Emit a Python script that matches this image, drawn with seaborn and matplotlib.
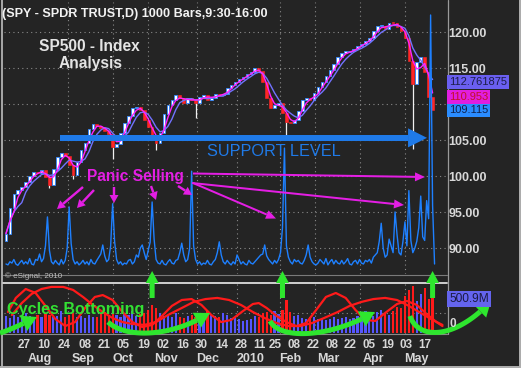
import numpy as np
import pandas as pd
import matplotlib
matplotlib.use("Agg")
import matplotlib.pyplot as plt
from matplotlib import font_manager
from matplotlib.patches import Polygon
import matplotlib.transforms as mtransforms
import seaborn as sns

# ---------------- data ----------------
# one candle every 2nd trading session, day index from mid-July 2009
bar_day = list(range(0, 217, 2))
closes = [92.0, 95.5, 97.5, 98.0, 98.5, 99.2, 100.0, 100.6, 100.4, 100.8,
          99.8, 98.8, 101.0, 102.6, 103.2, 102.8, 101.5, 100.2, 102.0, 103.6,
          104.6, 106.5, 107.2, 107.0, 106.6, 106.3, 105.8, 104.0, 104.5, 106.0,
          107.4, 108.4, 109.4, 109.6, 109.2, 107.8, 106.8, 105.5, 104.6, 106.0,
          108.6, 109.8, 110.5, 111.2, 110.8, 110.2, 110.9, 110.6, 110.2, 111.0,
          111.3, 110.6, 110.9, 111.4, 111.2, 111.4, 112.2, 112.7, 113.1, 113.5,
          113.8, 114.2, 114.5, 115.0, 114.6, 113.0, 110.8, 109.5, 109.8, 110.2,
          108.8, 107.5, 107.3, 107.8, 109.0, 110.5, 110.9, 110.5, 111.5, 112.3,
          113.0, 113.9, 114.7, 115.5, 116.6, 117.1, 117.2, 117.3, 117.7, 118.1,
          118.4, 118.7, 119.2, 120.1, 120.8, 120.9, 120.4, 121.3, 121.2, 120.7,
          120.2, 119.2, 116.0, 112.8, 115.8, 116.6, 114.5, 111.0, 109.1]
first_open = 91.0
wick_lows = {11: 98.3, 17: 99.6, 27: 102.3, 38: 103.6, 48: 108.0, 71: 105.5, 103: 103.8}

# daily volume line drawn in the price panel (millions of shares)
volume_day = [150, 148, 155, 152, 160, 150, 147, 153, 158, 150,
              155, 150, 162, 150, 148, 160, 158, 172, 155, 162,
              190, 254, 180, 155, 150, 158, 152, 148, 160, 150,
              158, 185, 276, 195, 160, 150, 155, 148, 152, 158,
              150, 155, 148, 160, 152, 150, 158, 165, 172, 192,
              168, 155, 160, 190, 283, 200, 160, 150, 155, 148,
              152, 150, 158, 160, 150, 155, 170, 165, 185, 192,
              175, 160, 180, 198, 287, 205, 160, 152, 150, 158,
              150, 148, 155, 160, 152, 150, 158, 160, 175, 196,
              170, 155, 160, 185, 355, 190, 160, 150, 155, 148,
              152, 150, 158, 150, 148, 155, 160, 175, 199, 170,
              155, 150, 158, 152, 148, 155, 150, 170, 160, 150,
              155, 150, 148, 158, 152, 150, 155, 160, 165, 170,
              172, 192, 168, 160, 155, 150, 158, 152, 160, 175,
              230, 406, 190, 165, 155, 150, 160, 155, 158, 152,
              150, 158, 170, 192, 165, 155, 150, 148, 152, 160,
              155, 150, 162, 148, 155, 160, 150, 158, 152, 150,
              158, 150, 155, 162, 150, 148, 155, 158, 150, 160,
              152, 150, 158, 155, 160, 152, 165, 170, 175, 200,
              240, 185, 165, 170, 205, 190, 175, 265, 215, 175,
              170, 200, 243, 190, 312, 202, 175, 185, 200, 230,
              300, 210, 202, 290, 250, 700, 280, 150]

# lower panel volume histogram (millions), one bar per candle
bar_volume = [260, 230, 270, 250, 240, 300, 260, 230, 280, 250,
              300, 270, 240, 260, 330, 250, 270, 300, 240, 260, 230, 280, 250, 240,
              300, 320, 260, 340, 280, 250, 300, 270, 330, 260, 290, 310, 350,
              420, 380, 300, 260, 280, 240, 300, 250, 230, 260, 280, 240, 250,
              300, 330, 290, 260, 250, 300, 270, 230, 240, 210,
              180, 200, 220, 260, 240, 300, 320, 280, 330, 290, 350,
              500, 320, 260, 280, 230, 220, 250, 240, 210, 230, 200, 220, 240, 210, 230, 250, 220,
              230, 260, 300, 340, 280, 260, 320, 350, 300, 280, 330, 400, 380,
              560, 650, 720, 480, 600, 680, 520, 600]

# two cycle oscillators in the lower panel
cycle_fast_day = [1, 5, 10, 15, 20, 25, 30, 35, 40, 45, 49, 54, 59, 64, 69, 74, 79, 84, 89, 94,
                  99, 104, 109, 114, 120, 125, 128, 132, 137, 142, 147, 152, 157, 162, 167, 172,
                  177, 182, 187, 192, 198, 203, 208, 213, 218, 221]
cycle_fast = [-0.21, 0.53, 1.0, 0.79, 0.11, -0.58, -0.95, -0.74, 0.0, 0.58, 0.68, 0.42, -0.21,
              -0.74, -1.0, -0.89, -0.42, 0.11, 0.42, 0.47, 0.16, -0.37, -0.74, -0.63, -0.16,
              0.21, 0.26, 0.0, -0.42, -0.74, -0.95, -0.79, -0.11, 0.58, 0.79, 0.53, -0.11,
              -0.63, -0.68, -0.26, 0.21, 0.37, 0.16, -0.32, -0.74, -0.95]
cycle_slow_day = [3, 8, 13, 18, 23, 29, 34, 39, 44, 49, 54, 59, 64, 70, 76, 82, 89, 95, 101,
                  107, 113, 119, 125, 131, 137, 143, 149, 155, 161, 168, 174, 180, 186, 192,
                  198, 204, 210, 216, 221]
cycle_slow = [-0.37, 0.26, 0.74, 1.0, 1.11, 1.11, 0.95, 0.58, 0.16, -0.21, -0.53, -0.74, -0.84,
              -0.89, -0.74, -0.37, 0.0, 0.32, 0.47, 0.53, 0.42, 0.16, -0.21, -0.53, -0.79,
              -0.95, -0.95, -0.79, -0.53, -0.21, 0.11, 0.32, 0.47, 0.53, 0.42, 0.11, -0.26,
              -0.63, -0.89]

price_ticks = [90, 95, 100, 105, 115, 120]
day_tick_pos = [9, 19, 29.5, 40, 49.5, 59, 69.5, 79.5, 89.5, 99, 109.5, 119, 128.5, 136.5,
                146, 155.5, 165, 174.5, 184, 193.5, 202.5, 212]
day_tick_labels = ['27', '10', '24', '08', '21', '05', '19', '02', '16', '30', '14', '28',
                   '11', '25', '08', '22', '08', '22', '05', '19', '03', '17']
month_pos = [17.3, 39, 59, 81, 102.3, 124, 144, 163, 186, 208]
month_labels = ['Aug', 'Sep', 'Oct', 'Nov', 'Dec', '2010', 'Feb', 'Mar', 'Apr', 'May']
grid_days = [31.4, 54.2, 72, 96.7, 117, 138.7, 156.5, 179.2, 202]

ma_fast_last = 110.953
ma_slow_last = 112.761875
last_price = 109.115
support_level = 105.3
support_days = [27.5, 213.2]
cycle_bottom_days = [74, 140, 216]

# ---------------- style ----------------
W, H = 521, 368
BG = '#242424'
sns.set_theme(style='dark', rc={'axes.facecolor': BG, 'figure.facecolor': BG,
                                'axes.grid': False, 'axes.edgecolor': BG})
plt.rcParams['font.family'] = ['Liberation Sans', 'DejaVu Sans']
names = {f.name for f in font_manager.fontManager.ttflist}
NARROW = 'Liberation Sans Narrow' if 'Liberation Sans Narrow' in names else 'Liberation Sans'

fig = plt.figure(figsize=(W / 100, H / 100), dpi=100, facecolor=BG)


def fig_rect(x0, y0, x1, y1):
    return [x0 / W, 1 - y1 / H, (x1 - x0) / W, (y1 - y0) / H]


XLIM = (-1.0, 223.3)
axp = fig.add_axes(fig_rect(4, 2, 447, 274))
axv = axp.twinx()
axb = fig.add_axes(fig_rect(4, 282, 447, 334))
axc = axb.twinx()
ov = fig.add_axes([0, 0, 1, 1])
ov.set_xlim(0, W)
ov.set_ylim(H, 0)
ov.axis('off')
ov.patch.set_visible(False)

for a in (axp, axv, axb, axc):
    a.set_xlim(*XLIM)
    for s in a.spines.values():
        s.set_visible(False)
axv.patch.set_visible(False)
axc.patch.set_visible(False)
axp.set_ylim(86.39, 124.17)
axv.set_ylim(127.9, 728.7)
axb.set_ylim(-15.2, 775)
axc.set_ylim(-1.368, 1.368)

GRID = dict(color='#8a8a8a', lw=0.8, ls=(0, (1, 3)), zorder=0)
for p in [90, 95, 100, 105, 110, 115, 120]:
    axp.axhline(p, **GRID)
for d in grid_days:
    axp.axvline(d, **GRID)
    axb.axvline(d, **GRID)
axb.axhline(304, **GRID)

# ---------------- price candles ----------------
price = pd.DataFrame({'day': bar_day, 'close': closes})
price['open'] = price['close'].shift(1).fillna(first_open)
price['lo'] = price[['open', 'close']].min(axis=1)
price['hi'] = price[['open', 'close']].max(axis=1)
price['body'] = (price['hi'] - price['lo']).clip(lower=0.2)
up = price['close'] >= price['open']

for b, low in wick_lows.items():
    axp.vlines(price['day'][b], low, price['lo'][b], color='#f0f0f0', lw=0.9, zorder=2)
axp.bar(price['day'][up], price['body'][up], bottom=price['lo'][up], width=1.35,
        color='white', edgecolor='#2f86ff', linewidth=0.6, zorder=3)
axp.bar(price['day'][~up], price['body'][~up], bottom=price['lo'][~up], width=1.35,
        color='#ff2626', edgecolor='#ff2626', linewidth=0.4, zorder=3)

price['ma_fast'] = price['close'].rolling(3, min_periods=1).mean()
price['ma_slow'] = price['close'].rolling(5, min_periods=1).mean()
sns.lineplot(data=price, x='day', y='ma_slow', ax=axp, color='#7272ff', lw=1.0, zorder=4)
sns.lineplot(data=price, x='day', y='ma_fast', ax=axp, color='#ff22ff', lw=1.0, zorder=4)

vol = pd.DataFrame({'day': np.arange(len(volume_day)), 'vol': volume_day})
sns.lineplot(data=vol, x='day', y='vol', ax=axv, color='#1e80ff', lw=1.0)

# ---------------- lower panel ----------------
bar_colors = ['#ff1a1a' if not u else '#5555ff' for u in up]
axb.bar(bar_day, bar_volume, width=1.1, color=bar_colors, linewidth=0, zorder=2)
sns.lineplot(x=cycle_fast_day, y=cycle_fast, ax=axc, color='#ff1a1a', lw=1.6)
sns.lineplot(x=cycle_slow_day, y=cycle_slow, ax=axc, color='#ff1a1a', lw=1.6)

# ---------------- axes text ----------------
for a in (axp, axv, axb, axc):
    a.set_xlabel('')
    a.set_ylabel('')
axp.set_xticks([])
axv.set_yticks([])
axc.set_yticks([])
axb.set_yticks([])
axp.yaxis.tick_right()
axp.set_yticks(price_ticks, [f'{p:.2f}' for p in price_ticks])
axp.tick_params(axis='y', length=0, pad=1, labelsize=9, labelcolor='#d8d8d8')
for t in axp.get_yticklabels():
    t.set_fontweight('bold')
axb.set_xticks(day_tick_pos, day_tick_labels)
axb.tick_params(axis='x', length=0, pad=3.5, labelsize=8.4, labelcolor='#d8d8d8')
for t in axb.get_xticklabels():
    t.set_fontweight('bold')
mtr = mtransforms.blended_transform_factory(axb.transData, ov.transData)
for d, lab in zip(month_pos, month_labels):
    axb.text(d, 362, lab, transform=mtr, ha='center', va='baseline', fontsize=9,
             fontweight='bold', color='#d8d8d8')


def to_px(ax, x, y):
    X, Y = ax.transData.transform((x, y))
    return X, H - Y


# ---------------- decorations (overlay in pixels) ----------------
def draw_arrow(pts, color, lw_px, hl, hw, z=20):
    pts = np.asarray(pts, float)
    tip = pts[-1]
    dist = np.linalg.norm(pts - tip, axis=1)
    keep = pts[dist > hl]
    prev = keep[-1]
    u = (tip - prev) / np.linalg.norm(tip - prev)
    base = tip - u * hl
    shaft = np.vstack([keep, base])
    ov.plot(shaft[:, 0], shaft[:, 1], color=color, lw=lw_px * 0.72,
            solid_capstyle='butt', solid_joinstyle='round', zorder=z)
    n = np.array([-u[1], u[0]])
    ov.add_patch(Polygon([tip, base + n * hw / 2, base - n * hw / 2], closed=True,
                         fc=color, ec='none', zorder=z))


def bezier(p0, p1, p2, p3, n=80):
    t = np.linspace(0, 1, n)[:, None]
    p0, p1, p2, p3 = map(np.asarray, (p0, p1, p2, p3))
    return (1 - t) ** 3 * p0 + 3 * (1 - t) ** 2 * t * p1 + 3 * (1 - t) * t ** 2 * p2 + t ** 3 * p3


# frame lines
LINE = '#9a9a9a'
ov.plot([2, 2], [0, H], color='#a8a8a8', lw=1.4, zorder=5)
ov.plot([447.5, 447.5], [0, 334], color=LINE, lw=0.9, zorder=5)
ov.plot([3, 447], [275, 275], color='#7a7a7a', lw=0.8, zorder=5)
ov.plot([3, 447], [282.5, 282.5], color='#d0d0d0', lw=1.4, zorder=5)
ov.plot([3, 447], [334, 334], color='#8a8a8a', lw=0.8, zorder=5)
ov.plot([519.5, 519.5], [0, H], color='#b0b0b0', lw=1.4, zorder=5)
ov.plot([0, W], [366.5, 366.5], color='#b0b0b0', lw=1.4, zorder=5)

# support arrow
BLUE = '#1f7ae8'
sp = [to_px(axp, support_days[0], support_level), to_px(axp, support_days[1], support_level)]
draw_arrow(sp, BLUE, 6, 19, 19)
ov.text(207, 156, 'SUPPORT LEVEL', fontsize=11.7, color=BLUE, ha='left', va='baseline', zorder=21)

# texts
ov.text(2, 16.5, '(SPY - SPDR TRUST,D) 1000 Bars,9:30-16:00', fontsize=9.1, fontweight='bold',
        color='#f2f2f2', ha='left', va='baseline', zorder=21)
ov.text(39, 51, 'SP500 - Index', fontsize=11.2, fontweight='bold', color='#e4e4e4',
        ha='left', va='baseline', zorder=21)
ov.text(59, 68, 'Analysis', fontsize=11.2, fontweight='bold', color='#e4e4e4',
        ha='left', va='baseline', zorder=21)
ov.text(5, 278, '© eSignal, 2010', fontsize=5.8, color='#bdbdbd', ha='left', va='baseline', zorder=21)

# panic selling arrows
MAG = '#e41ee4'
ov.text(87, 180.7, 'Panic Selling', fontsize=11.2, fontweight='bold', color=MAG,
        ha='left', va='baseline', zorder=21)
for a0, a1 in [((83, 187), (57, 209)), ((94, 190), (77, 208)), ((114, 187), (114, 203)),
               ((151, 186), (156, 200)), ((178, 186), (192, 195))]:
    draw_arrow([a0, a1], MAG, 2.4, 8, 9)
for a0, a1 in [((193, 173.5), (425, 177)), ((192, 183), (404, 205)), ((193, 183), (276, 218.5))]:
    draw_arrow([a0, a1], MAG, 2.0, 10, 9)

# green cycle arrows
GREEN = '#2ee62e'
for d in cycle_bottom_days:
    x = to_px(axb, d, 0)[0]
    ov.add_patch(Polygon([(x - 2.5, 298), (x - 2.5, 283), (x - 6.5, 283), (x, 271),
                          (x + 6.5, 283), (x + 2.5, 283), (x + 2.5, 298)], closed=True,
                         fc=GREEN, ec='none', zorder=22))
ov.text(7, 314, 'Cycles Bottoming', fontsize=11.6, fontweight='bold', color='#33e033',
        ha='left', va='baseline', zorder=23)
for ctrl in [((0, 333), (10, 330), (22, 324), (37, 317)),
             ((108, 322), (125, 338), (170, 338), (210, 313)),
             ((270, 321), (280, 340), (330, 338), (375, 312)),
             ((410, 316), (418, 340), (455, 340), (491, 301))]:
    draw_arrow(bezier(*ctrl), GREEN, 5, 15, 17, z=22)

# value boxes on the right
def value_box(y, text, fc, tc, size=8.0):
    ov.text(449, y, text, fontsize=size, color=tc, family=NARROW, ha='left', va='center',
            zorder=24, bbox=dict(boxstyle='square,pad=0.15', fc=fc, ec='none'))


value_box(to_px(axp, 0, ma_slow_last)[1] - 2, f'{ma_slow_last}', '#6a5ff0', '#1c1c4a')
value_box(to_px(axp, 0, ma_fast_last)[1], f'{ma_fast_last}', '#e01ee0', '#c4102a')
value_box(to_px(axp, 0, last_price)[1], f'{last_price}', '#2a8cff', '#10204a')
value_box(to_px(axb, 0, 500.9)[1] - 1, '500.9M', '#6464ee', '#1a1a40', size=8.6)
ov.text(449, 327, '0', fontsize=8.5, fontweight='bold', color='#d8d8d8', ha='left',
        va='baseline', zorder=24)

fig.savefig('out.png', dpi=100, facecolor=BG)
